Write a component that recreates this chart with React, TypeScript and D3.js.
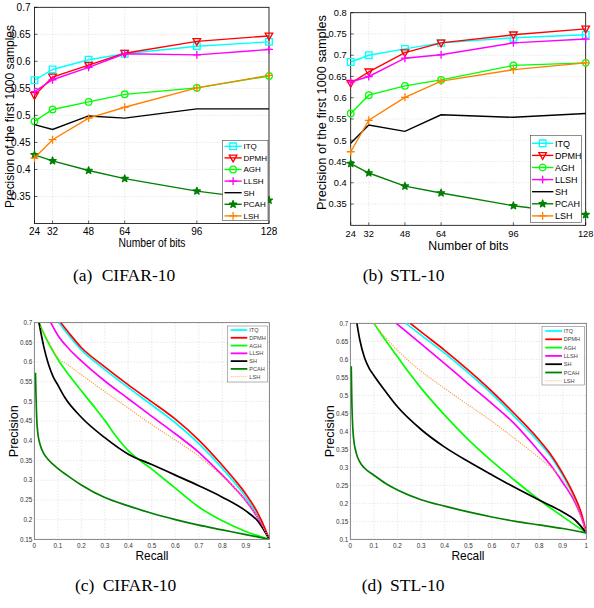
import React from 'react';
import * as d3 from 'd3';

// ---------- DATA ----------
const bits = [24, 32, 48, 64, 96, 128];
const methods = ['ITQ', 'DPMH', 'AGH', 'LLSH', 'SH', 'PCAH', 'LSH'];

// (a) CIFAR-10 precision of first 1000 samples
const cifarITQ = [0.565, 0.585, 0.603, 0.614, 0.628, 0.636];
const cifarDPMH = [0.537, 0.571, 0.593, 0.615, 0.637, 0.647];
const cifarAGH = [0.489, 0.511, 0.525, 0.539, 0.551, 0.573];
const cifarLLSH = [0.544, 0.566, 0.589, 0.614, 0.612, 0.622];
const cifarSH = [0.483, 0.474, 0.499, 0.495, 0.512, 0.512];
const cifarPCAH = [0.427, 0.416, 0.398, 0.383, 0.360, 0.343];
const cifarLSH = [0.421, 0.455, 0.495, 0.515, 0.551, 0.574];

// (b) STL-10
const stlITQ = [0.684, 0.700, 0.715, 0.729, 0.741, 0.748];
const stlDPMH = [0.634, 0.661, 0.706, 0.729, 0.748, 0.762];
const stlAGH = [0.563, 0.606, 0.628, 0.642, 0.676, 0.682];
const stlLLSH = [0.637, 0.650, 0.693, 0.701, 0.729, 0.738];
const stlSH = [0.493, 0.536, 0.521, 0.560, 0.554, 0.563];
const stlPCAH = [0.445, 0.423, 0.392, 0.376, 0.346, 0.325];
const stlLSH = [0.473, 0.547, 0.601, 0.639, 0.666, 0.682];

// axis ticks
const cifarBitsYTicks = [0.35, 0.4, 0.45, 0.5, 0.55, 0.6, 0.65, 0.7];
const stlBitsYTicks = [0.35, 0.4, 0.45, 0.5, 0.55, 0.6, 0.65, 0.7, 0.75, 0.8];
const recallTicks = [0, 0.1, 0.2, 0.3, 0.4, 0.5, 0.6, 0.7, 0.8, 0.9, 1];
const cifarPRYTicks = [0.15, 0.2, 0.25, 0.3, 0.35, 0.4, 0.45, 0.5, 0.55, 0.6, 0.65, 0.7];
const stlPRYTicks = [0.1, 0.15, 0.2, 0.25, 0.3, 0.35, 0.4, 0.45, 0.5, 0.55, 0.6, 0.65, 0.7];

// (c) CIFAR-10 precision-recall [recall, precision]
const cifarPR_ITQ = [[0.105, 0.70], [0.15, 0.665], [0.2, 0.631], [0.3, 0.581], [0.4, 0.535], [0.5, 0.491], [0.6, 0.446], [0.7, 0.393], [0.8, 0.330], [0.85, 0.295], [0.9, 0.257], [0.95, 0.21], [0.98, 0.175], [1, 0.15]];
const cifarPR_DPMH = [[0.113, 0.70], [0.15, 0.672], [0.2, 0.637], [0.3, 0.588], [0.4, 0.542], [0.5, 0.499], [0.6, 0.455], [0.7, 0.402], [0.8, 0.338], [0.85, 0.303], [0.9, 0.265], [0.95, 0.218], [0.98, 0.18], [1, 0.15]];
const cifarPR_AGH = [[0.02, 0.70], [0.05, 0.66], [0.1, 0.607], [0.15, 0.565], [0.2, 0.527], [0.25, 0.49], [0.3, 0.452], [0.35, 0.41], [0.4, 0.375], [0.5, 0.328], [0.6, 0.28], [0.7, 0.232], [0.8, 0.197], [0.9, 0.17], [1, 0.15]];
const cifarPR_LLSH = [[0.07, 0.70], [0.1, 0.668], [0.15, 0.632], [0.2, 0.603], [0.3, 0.552], [0.4, 0.507], [0.5, 0.462], [0.6, 0.418], [0.7, 0.371], [0.8, 0.313], [0.85, 0.282], [0.9, 0.248], [0.95, 0.205], [0.98, 0.172], [1, 0.15]];
const cifarPR_SH = [[0.02, 0.70], [0.04, 0.64], [0.06, 0.595], [0.08, 0.563], [0.1, 0.542], [0.13, 0.51], [0.2, 0.46], [0.3, 0.408], [0.4, 0.366], [0.5, 0.34], [0.6, 0.313], [0.7, 0.286], [0.8, 0.257], [0.9, 0.222], [0.95, 0.197], [1, 0.15]];
const cifarPR_PCAH = [[0.005, 0.573], [0.007, 0.52], [0.01, 0.46], [0.015, 0.42], [0.025, 0.39], [0.04, 0.368], [0.06, 0.352], [0.1, 0.33], [0.15, 0.308], [0.2, 0.288], [0.3, 0.256], [0.4, 0.235], [0.5, 0.216], [0.6, 0.2], [0.7, 0.186], [0.8, 0.174], [0.9, 0.162], [1, 0.15]];
const cifarPR_LSH = [[0.025, 0.69], [0.05, 0.665], [0.1, 0.612], [0.15, 0.59], [0.2, 0.568], [0.3, 0.525], [0.4, 0.483], [0.5, 0.441], [0.6, 0.402], [0.7, 0.361], [0.8, 0.31], [0.85, 0.282], [0.9, 0.248], [0.95, 0.205], [1, 0.15]];

// (d) STL-10 precision-recall
const stlPR_ITQ = [[0.235, 0.70], [0.3, 0.667], [0.4, 0.617], [0.5, 0.562], [0.6, 0.504], [0.7, 0.438], [0.8, 0.369], [0.85, 0.33], [0.9, 0.277], [0.95, 0.215], [0.98, 0.165], [1, 0.118]];
const stlPR_DPMH = [[0.254, 0.70], [0.3, 0.676], [0.4, 0.625], [0.5, 0.570], [0.6, 0.511], [0.7, 0.446], [0.8, 0.376], [0.85, 0.335], [0.9, 0.283], [0.95, 0.22], [0.98, 0.17], [1, 0.118]];
const stlPR_AGH = [[0.1, 0.70], [0.15, 0.652], [0.2, 0.607], [0.25, 0.562], [0.3, 0.52], [0.4, 0.445], [0.5, 0.377], [0.6, 0.317], [0.7, 0.262], [0.8, 0.21], [0.9, 0.163], [1, 0.118]];
const stlPR_LLSH = [[0.195, 0.70], [0.3, 0.643], [0.4, 0.588], [0.5, 0.532], [0.6, 0.477], [0.7, 0.418], [0.8, 0.344], [0.85, 0.305], [0.9, 0.258], [0.95, 0.205], [0.98, 0.16], [1, 0.118]];
const stlPR_SH = [[0.028, 0.70], [0.04, 0.655], [0.06, 0.605], [0.08, 0.575], [0.1, 0.555], [0.15, 0.51], [0.2, 0.468], [0.3, 0.405], [0.4, 0.356], [0.5, 0.316], [0.6, 0.279], [0.7, 0.243], [0.8, 0.209], [0.9, 0.176], [0.95, 0.155], [1, 0.118]];
const stlPR_PCAH = [[0.004, 0.581], [0.006, 0.5], [0.009, 0.43], [0.014, 0.38], [0.025, 0.34], [0.04, 0.315], [0.06, 0.298], [0.1, 0.278], [0.15, 0.255], [0.2, 0.237], [0.3, 0.21], [0.4, 0.192], [0.5, 0.176], [0.6, 0.162], [0.7, 0.15], [0.8, 0.14], [0.9, 0.13], [1, 0.118]];
const stlPR_LSH = [[0.1, 0.70], [0.15, 0.66], [0.2, 0.625], [0.3, 0.567], [0.4, 0.519], [0.5, 0.473], [0.6, 0.428], [0.7, 0.378], [0.8, 0.326], [0.9, 0.265], [0.95, 0.21], [1, 0.118]];

// ---------- STYLE ----------
const COLORS: Record<string, string> = {
  ITQ: '#00ffff', DPMH: '#ff0000', AGH: '#00ff00', LLSH: '#ff00ff', SH: '#000000', PCAH: '#007f00', LSH: '#ff8000',
};
const MARKERS: Record<string, string> = {
  ITQ: 'square', DPMH: 'tridown', AGH: 'circle', LLSH: 'plus', SH: 'none', PCAH: 'star', LSH: 'plus',
};
const SANS = '"Liberation Sans", Arial, Helvetica, sans-serif';
const SERIF = '"Liberation Serif", "Times New Roman", serif';

function Marker({ type, x, y, color, s = 3.3 }: any) {
  if (type === 'none') return null;
  let d = '';
  if (type === 'square') d = `M${x - s},${y - s}h${2 * s}v${2 * s}h${-2 * s}Z`;
  else if (type === 'tridown') d = `M${x - s * 1.15},${y - s * 0.85}L${x + s * 1.15},${y - s * 0.85}L${x},${y + s * 1.2}Z`;
  else if (type === 'circle') d = `M${x - s},${y}a${s},${s} 0 1,0 ${2 * s},0a${s},${s} 0 1,0 ${-2 * s},0Z`;
  else if (type === 'plus') d = `M${x - s * 1.2},${y}H${x + s * 1.2}M${x},${y - s * 1.2}V${y + s * 1.2}`;
  else if (type === 'star') {
    const sd = d3.symbol().type(d3.symbolStar).size(16)() as string;
    return <path d={sd} transform={`translate(${x},${y})`} fill={color} stroke={color} strokeWidth={1.3} strokeLinejoin="round" />;
  }
  return <path d={d} fill="none" stroke={color} strokeWidth={1.3} />;
}

function fmt(v: number) {
  return String(+v.toFixed(2));
}

function BitsPanel({ box, yDomain, yTicks, series, legend, fs }: any) {
  const x = d3.scaleLinear().domain([24, 128]).range([box.x0, box.x1]);
  const y = d3.scaleLinear().domain(yDomain).range([box.y1, box.y0]);
  const line = d3.line<number>().x((_, i) => x(bits[i])).y((v) => y(v));
  return (
    <g fontFamily={SANS}>
      {bits.map((b) => (
        <line key={'gx' + b} x1={x(b)} x2={x(b)} y1={box.y0} y2={box.y1} stroke="#c8c8c8" strokeWidth={0.6} strokeDasharray="1,2" />
      ))}
      {yTicks.map((t: number) => (
        <line key={'gy' + t} x1={box.x0} x2={box.x1} y1={y(t)} y2={y(t)} stroke="#c8c8c8" strokeWidth={0.6} strokeDasharray="1,2" />
      ))}
      <rect x={box.x0} y={box.y0} width={box.x1 - box.x0} height={box.y1 - box.y0} fill="none" stroke="#000" strokeWidth={0.8} />
      {bits.map((b) => (
        <g key={'tx' + b}>
          <line x1={x(b)} x2={x(b)} y1={box.y1} y2={box.y1 - 3} stroke="#000" strokeWidth={0.6} />
          <text x={x(b)} y={fs.xTickY} fontSize={fs.tick} textAnchor="middle">{b}</text>
        </g>
      ))}
      {yTicks.map((t: number) => (
        <g key={'ty' + t}>
          <line x1={box.x0} x2={box.x0 + 3} y1={y(t)} y2={y(t)} stroke="#000" strokeWidth={0.6} />
          <text x={box.x0 - 4} y={y(t) + fs.tick * 0.35} fontSize={fs.tick} textAnchor="end">{fmt(t)}</text>
        </g>
      ))}
      {methods.map((m) => (
        <g key={m}>
          <path d={line(series[m]) as string} fill="none" stroke={COLORS[m]} strokeWidth={1.4} />
          {series[m].map((v: number, i: number) => (
            <Marker key={i} type={MARKERS[m]} x={x(bits[i])} y={y(v)} color={COLORS[m]} />
          ))}
        </g>
      ))}
      <text x={fs.xLabX} y={fs.xLabY} fontSize={fs.label} textAnchor="middle" textLength={fs.xLabLen} lengthAdjust="spacingAndGlyphs">Number of bits</text>
      <text transform={`translate(${fs.yLabX},${fs.yLabCY}) rotate(-90)`} fontSize={fs.label} textAnchor="middle" textLength={fs.yLabLen} lengthAdjust="spacingAndGlyphs">Precision of the first 1000 samples</text>
      <rect x={legend.x0} y={legend.y0} width={legend.x1 - legend.x0} height={legend.y1 - legend.y0} fill="#fff" stroke="#444" strokeWidth={0.6} />
      {methods.map((m, i) => {
        const yy = legend.row0 + i * legend.step;
        return (
          <g key={'lg' + m}>
            <line x1={legend.lx0} x2={legend.lx1} y1={yy} y2={yy} stroke={COLORS[m]} strokeWidth={1.4} />
            <Marker type={MARKERS[m]} x={(legend.lx0 + legend.lx1) / 2} y={yy} color={COLORS[m]} />
            <text x={legend.tx} y={yy + legend.fs * 0.36} fontSize={legend.fs}>{m}</text>
          </g>
        );
      })}
    </g>
  );
}

function PRPanel({ box, yDomain, yTicks, curves, legend, lab, id }: any) {
  const x = d3.scaleLinear().domain([0, 1]).range([box.x0, box.x1]);
  const y = d3.scaleLinear().domain(yDomain).range([box.y1, box.y0]);
  const line = d3.line<number[]>().x((d) => x(d[0])).y((d) => y(d[1])).curve(d3.curveMonotoneX);
  const tickFs = 6.3;
  return (
    <g fontFamily={SANS}>
      <defs>
        <clipPath id={id}>
          <rect x={box.x0} y={box.y0} width={box.x1 - box.x0} height={box.y1 - box.y0} />
        </clipPath>
      </defs>
      {recallTicks.map((t) => (
        <line key={'gx' + t} x1={x(t)} x2={x(t)} y1={box.y0} y2={box.y1} stroke="#c8c8c8" strokeWidth={0.6} strokeDasharray="1,2" />
      ))}
      {yTicks.map((t: number) => (
        <line key={'gy' + t} x1={box.x0} x2={box.x1} y1={y(t)} y2={y(t)} stroke="#c8c8c8" strokeWidth={0.6} strokeDasharray="1,2" />
      ))}
      <rect x={box.x0} y={box.y0} width={box.x1 - box.x0} height={box.y1 - box.y0} fill="none" stroke="#555" strokeWidth={0.7} />
      {recallTicks.map((t) => (
        <text key={'tx' + t} x={x(t)} y={box.y1 + 8.3} fontSize={tickFs} fill="#333" textAnchor="middle">{fmt(t)}</text>
      ))}
      {yTicks.map((t: number) => (
        <text key={'ty' + t} x={box.x0 - 2} y={y(t) + 2.2} fontSize={tickFs} fill="#333" textAnchor="end">{fmt(t)}</text>
      ))}
      <g clipPath={`url(#${id})`}>
        {methods.map((m) => (
          <path key={m} d={line(curves[m]) as string} fill="none" stroke={m === 'LSH' ? '#ff9a40' : COLORS[m]}
            strokeWidth={m === 'LSH' ? 1.1 : 1.7} strokeDasharray={m === 'LSH' ? '1.2,1.2' : undefined} />
        ))}
      </g>
      <text x={lab.rx} y={lab.ry} fontSize={13.5} textAnchor="middle" textLength={lab.rLen} lengthAdjust="spacingAndGlyphs">Recall</text>
      <text transform={`translate(${lab.px},${lab.py}) rotate(-90)`} fontSize={13.5} textAnchor="middle" textLength={lab.pLen} lengthAdjust="spacingAndGlyphs">Precision</text>
      <rect x={legend.x0} y={legend.y0} width={legend.x1 - legend.x0} height={legend.y1 - legend.y0} fill="#fff" stroke="#666" strokeWidth={0.5} />
      {methods.map((m, i) => {
        const yy = legend.row0 + i * legend.step;
        return (
          <g key={'lg' + m}>
            <line x1={legend.lx0} x2={legend.lx1} y1={yy} y2={yy} stroke={m === 'LSH' ? '#ffb070' : COLORS[m]}
              strokeWidth={m === 'LSH' ? 1 : 1.8} strokeDasharray={m === 'LSH' ? '1,1' : undefined} />
            <text x={legend.tx} y={yy + 2} fontSize={5.6} fill="#444">{m}</text>
          </g>
        );
      })}
    </g>
  );
}

export default function App() {
  const cifarBits = { ITQ: cifarITQ, DPMH: cifarDPMH, AGH: cifarAGH, LLSH: cifarLLSH, SH: cifarSH, PCAH: cifarPCAH, LSH: cifarLSH };
  const stlBits = { ITQ: stlITQ, DPMH: stlDPMH, AGH: stlAGH, LLSH: stlLLSH, SH: stlSH, PCAH: stlPCAH, LSH: stlLSH };
  const cifarPR = { ITQ: cifarPR_ITQ, DPMH: cifarPR_DPMH, AGH: cifarPR_AGH, LLSH: cifarPR_LLSH, SH: cifarPR_SH, PCAH: cifarPR_PCAH, LSH: cifarPR_LSH };
  const stlPR = { ITQ: stlPR_ITQ, DPMH: stlPR_DPMH, AGH: stlPR_AGH, LLSH: stlPR_LLSH, SH: stlPR_SH, PCAH: stlPR_PCAH, LSH: stlPR_LSH };

  return (
    <svg width={594} height={608} style={{ position: 'absolute', left: 0, top: 0, background: '#fff' }}>
      <rect x={0} y={0} width={594} height={608} fill="#fff" />
      <BitsPanel
        box={{ x0: 34.5, x1: 269, y0: 7.3, y1: 223.5 }}
        yDomain={[0.3, 0.7]}
        yTicks={cifarBitsYTicks}
        series={cifarBits}
        fs={{ tick: 10, xTickY: 235, label: 12, xLabX: 152, xLabY: 247, xLabLen: 67, yLabX: 14, yLabCY: 116.5, yLabLen: 183 }}
        legend={{ x0: 222.5, y0: 140.5, x1: 268, y1: 220.5, row0: 146.3, step: 11.6, lx0: 224.5, lx1: 241.7, tx: 243.5, fs: 8 }}
      />
      <BitsPanel
        box={{ x0: 350.7, x1: 585.7, y0: 12.7, y1: 225.3 }}
        yDomain={[0.3, 0.8]}
        yTicks={stlBitsYTicks}
        series={stlBits}
        fs={{ tick: 9.3, xTickY: 236.5, label: 13, xLabX: 468.3, xLabY: 250, xLabLen: 80, yLabX: 326, yLabCY: 112.5, yLabLen: 195 }}
        legend={{ x0: 530.5, y0: 135.5, x1: 581.5, y1: 222.5, row0: 143.3, step: 12.1, lx0: 532, lx1: 553.3, tx: 555, fs: 9 }}
      />
      <PRPanel
        id="clipC"
        box={{ x0: 34.3, x1: 269.3, y0: 322.7, y1: 539.3 }}
        yDomain={[0.15, 0.7]}
        yTicks={cifarPRYTicks}
        curves={cifarPR}
        lab={{ rx: 152, ry: 560, rLen: 33, px: 17.5, py: 431.3, pLen: 52 }}
        legend={{ x0: 227.3, y0: 326, x1: 267.3, y1: 382, row0: 330, step: 7.78, lx0: 230.7, lx1: 247.3, tx: 249.3 }}
      />
      <PRPanel
        id="clipD"
        box={{ x0: 350.3, x1: 586.3, y0: 323.3, y1: 539.3 }}
        yDomain={[0.1, 0.7]}
        yTicks={stlPRYTicks}
        curves={stlPR}
        lab={{ rx: 468, ry: 560, rLen: 33, px: 333.5, py: 431.3, pLen: 52 }}
        legend={{ x0: 542, y0: 326.7, x1: 584.3, y1: 385, row0: 331, step: 8.3, lx0: 545.3, lx1: 562, tx: 563.7 }}
      />
      <g fontFamily={SERIF} fontSize={17.5}>
        <text x={73} y={281}>(a)</text>
        <text x={101.7} y={281}>CIFAR-10</text>
        <text x={362.7} y={281}>(b)</text>
        <text x={390} y={281}>STL-10</text>
        <text x={75} y={591}>(c)</text>
        <text x={102.7} y={591}>CIFAR-10</text>
        <text x={361.7} y={591}>(d)</text>
        <text x={390} y={591}>STL-10</text>
      </g>
    </svg>
  );
}
